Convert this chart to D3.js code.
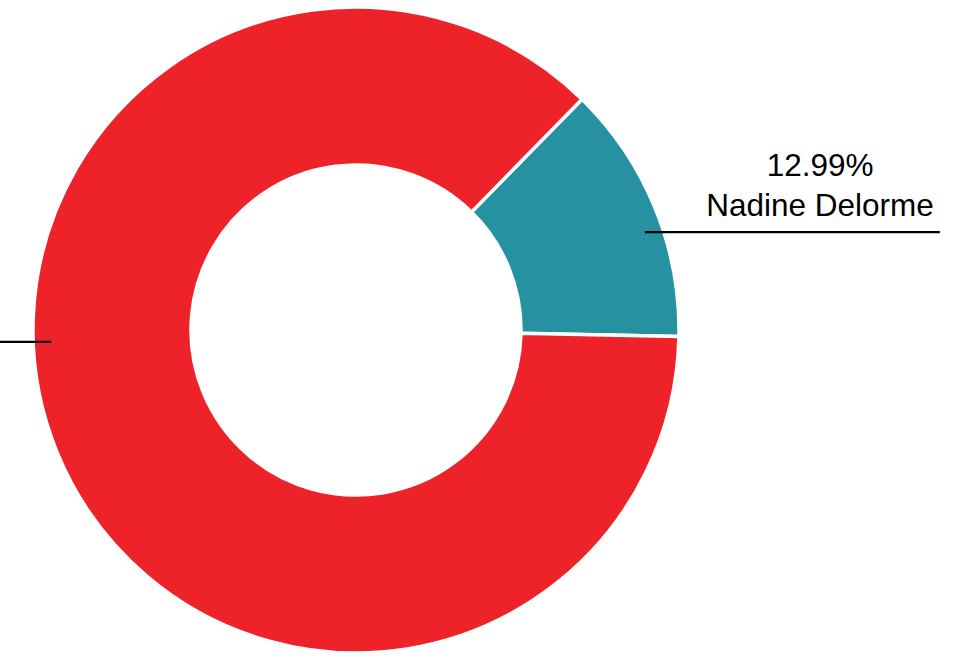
<!DOCTYPE html>
<html>
<head>
<meta charset="utf-8">
<script src="https://cdn.jsdelivr.net/npm/d3@7"></script>
<style>
  html, body { margin: 0; padding: 0; background: #fff; overflow: hidden; }
  svg { display: block; font-family: "Liberation Sans", Arial, sans-serif; }
</style>
</head>
<body>
<div id="chart"></div>
<script>
// data
var names = ["Nadine Delorme", "Autres"];
var shares = [12.99, 87.01];
var colors = ["#2691a0", "#ee2229"];
var labelShift = [3.5, 20];   // degrees, label line anchor vs slice middle
var labelSide = [1, -1];

var width = 967, height = 658;
var cx = 356, cy = 330;
var outerR = 323, innerR = 165, labelR = 305;
var lineLen = 295;
var fontSize = 31.5;

var svg = d3.select("#chart")
    .append("svg")
    .attr("width", width)
    .attr("height", height);

var g = svg.append("g")
    .attr("transform", "translate(" + cx + "," + cy + ")");

var startA = 44.4 * Math.PI / 180;
var pie = d3.pie()
    .sort(null)
    .value(function(d) { return d; })
    .startAngle(startA)
    .endAngle(startA + 2 * Math.PI);

var arc = d3.arc().innerRadius(innerR).outerRadius(outerR);
var anchorArc = d3.arc().innerRadius(labelR).outerRadius(labelR);

var slices = pie(shares);

g.selectAll("path.slice")
    .data(slices)
    .enter()
    .append("path")
    .attr("class", "slice")
    .attr("d", arc)
    .attr("fill", function(d, i) { return colors[i]; })
    .attr("stroke", "#fff")
    .attr("stroke-width", 3.5)
    .attr("stroke-linejoin", "miter");

var labels = g.selectAll("g.label")
    .data(slices)
    .enter()
    .append("g")
    .attr("class", "label");

labels.each(function(d, i) {
    var a = (d.startAngle + d.endAngle) / 2 + labelShift[i] * Math.PI / 180;
    var p = anchorArc.centroid({startAngle: a, endAngle: a});
    var x2 = p[0] + labelSide[i] * lineLen;
    var sel = d3.select(this);

    sel.append("line")
        .attr("x1", p[0]).attr("y1", p[1])
        .attr("x2", x2).attr("y2", p[1])
        .attr("stroke", "#000")
        .attr("stroke-width", 2.2);

    var t = sel.append("text")
        .attr("text-anchor", "middle")
        .attr("font-size", fontSize)
        .attr("fill", "#000");
    t.append("tspan").attr("x", 0).attr("y", p[1] - 56)
        .text(d3.format(".2f")(shares[i]) + "%");
    t.append("tspan").attr("x", 0).attr("y", p[1] - 16)
        .text(names[i]);

    var w = 0;
    t.selectAll("tspan").each(function() {
        w = Math.max(w, this.getComputedTextLength());
    });
    var mid = x2 - labelSide[i] * (6 + w / 2);
    t.selectAll("tspan").attr("x", mid);
});
</script>
</body>
</html>
